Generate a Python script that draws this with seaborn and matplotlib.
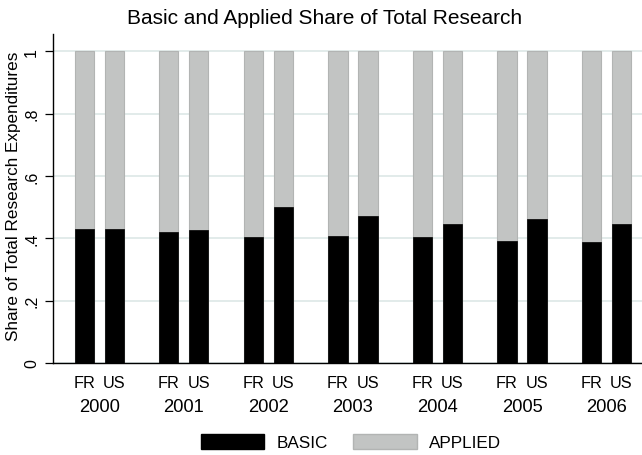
import matplotlib
matplotlib.use("Agg")
import matplotlib.pyplot as plt
import matplotlib.transforms as mtransforms
from matplotlib.patches import Patch
import seaborn as sns
import pandas as pd

years = ["2000", "2001", "2002", "2003", "2004", "2005", "2006"]
countries = ["FR", "US"]
basic_fr = [0.429, 0.421, 0.404, 0.407, 0.403, 0.391, 0.387]
basic_us = [0.430, 0.426, 0.500, 0.470, 0.446, 0.461, 0.446]
applied_fr = [0.571, 0.579, 0.596, 0.593, 0.597, 0.609, 0.613]
applied_us = [0.570, 0.574, 0.500, 0.530, 0.554, 0.539, 0.554]
yticks = [0, 0.2, 0.4, 0.6, 0.8, 1.0]
ytick_labels = ["0", ".2", ".4", ".6", ".8", "1"]

rows = []
for i, y in enumerate(years):
    rows.append(dict(year=y, country="FR", basic=basic_fr[i], total=basic_fr[i] + applied_fr[i]))
    rows.append(dict(year=y, country="US", basic=basic_us[i], total=basic_us[i] + applied_us[i]))
df = pd.DataFrame(rows)

sns.set_style("white")
plt.rcParams["font.family"] = ["Liberation Sans", "DejaVu Sans"]
plt.rcParams["text.color"] = "black"
plt.rcParams["xtick.color"] = "black"
plt.rcParams["ytick.color"] = "black"
plt.rcParams["axes.labelcolor"] = "black"

W, H = 642, 456
fig = plt.figure(figsize=(W / 100, H / 100), dpi=100)
ax = fig.add_axes([53 / W, 1 - 364 / H, 1 - 53 / W, (364 - 35) / H])

grey = "#c2c4c3"
sns.barplot(data=df, x="year", y="total", hue="country", hue_order=countries,
            palette=[grey, grey], width=0.71, gap=0.366, dodge=True,
            edgecolor="#b2b4b3", linewidth=0.8, legend=False, ax=ax, zorder=2)
sns.barplot(data=df, x="year", y="basic", hue="country", hue_order=countries,
            palette=["black", "black"], width=0.71, gap=0.366, dodge=True,
            edgecolor="black", linewidth=0.5, legend=False, ax=ax, zorder=3)

ax.set_xlim(-0.55, 6.42)
ax.set_ylim(0, 1.055)
ax.set_yticks(yticks)
ax.set_yticklabels(ytick_labels, rotation=90, va="center", fontsize=11.5, color="black")
ax.tick_params(axis="y", length=6, width=0.9, color="black", pad=4, left=True)
ax.yaxis.grid(True, color="#dde7e6", linewidth=1.2, zorder=0)
ax.set_axisbelow(True)

# FR / US labels under bars
off = 0.71 / 4
pos = []
labs = []
for i in range(len(years)):
    pos += [i - off, i + off]
    labs += countries
ax.set_xticks(pos)
ax.set_xticklabels(labs, fontsize=11.7, color="black")
ax.tick_params(axis="x", length=0, pad=9)
trans = mtransforms.blended_transform_factory(ax.transData, fig.transFigure)
for i, y in enumerate(years):
    ax.text(i, 1 - 408 / H, y, transform=trans, ha="center", va="center",
            fontsize=13.2, color="black")

ax.set_xlabel("")
ax.set_ylabel("")
for s in ["top", "right"]:
    ax.spines[s].set_visible(False)
for s in ["left", "bottom"]:
    ax.spines[s].set_color("black")
    ax.spines[s].set_linewidth(1.0)

fig.text(14 / W, 1 - 196 / H, "Share of Total Research Expenditures", rotation=90,
         ha="center", va="center", fontsize=12.3, color="black")
fig.text(325 / W, 1 - 18 / H, "Basic and Applied Share of Total Research",
         ha="center", va="center", fontsize=15, color="black")

handles = [Patch(facecolor="black", edgecolor="black", label="BASIC"),
           Patch(facecolor=grey, edgecolor="#b2b4b3", label="APPLIED")]
fig.legend(handles=handles, loc="center", bbox_to_anchor=(351 / W, 1 - 443 / H),
           ncol=2, frameon=False, fontsize=12.3, handlelength=3.7, handleheight=1.05,
           handletextpad=0.7, columnspacing=1.5, labelcolor="black")

fig.savefig("out.png", dpi=100)
